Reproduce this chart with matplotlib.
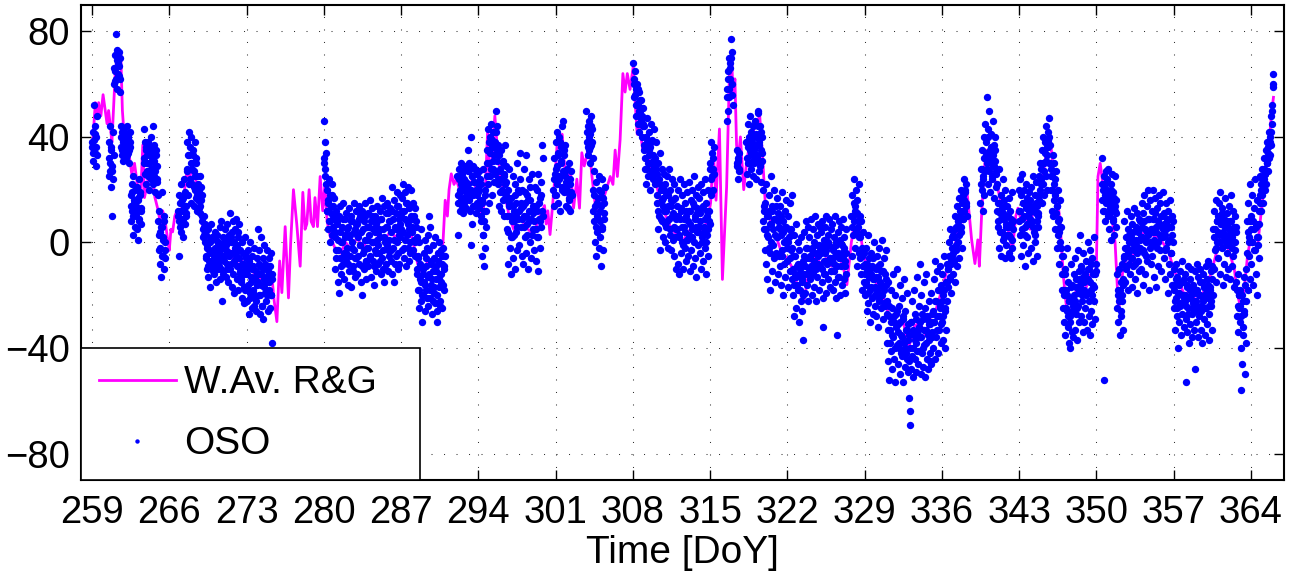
import matplotlib
matplotlib.use("Agg")
import matplotlib.pyplot as plt
import numpy as np

n = np.nan

# OSO series, one sample every 0.05 day; one row per day, one list per week
OSO_START = 259.0
OSO_STEP = 0.05

oso_w1 = [
    36, 42, 31, 39, 52, 34, 44, 29, 40, 48, n, n, n, n, n, n, n, n, n, n,
    n, n, n, n, n, n, n, n, n, n, 38, 25, 44, 30, 21, 35, 10, 27, 42, 33,
    60, 71, 65, 79, 62, 73, 58, 68, 72, 63, 70, 57, 44, 36, 42, 33, 39, 31, 43, 37,
    35, 41, 32, 38, 44, 34, 40, 30, 36, 42, 18, 8, 22, 12, 3, 25, 15, 6, 20, 10,
    14, 21, 5, 17, 1, 24, 9, 19, 12, 7, n, n, n, n, 43, 30, 38, 22, 35, 27,
    33, 25, 38, 20, 30, 36, 24, 40, 28, 34, 44, 22, 31, 37, 19, 27, 35, 23, 29, 18,
    8, -3, 12, -8, 4, -13, 6, 19, -5, 2, 10, -10, 0, -6, n, n, n, n, n, n,
]
oso_w2 = [
    n, n, n, n, n, n, n, n, n, n, n, n, n, n, n, n, 10, -5, 18, 6,
    15, 4, 22, 9, 17, 2, 24, 12, 7, 19, 14, 11, 28, 38, 18, 33, 42, 24, 36, 15,
    40, 30, 22, 35, 14, 27, 38, 20, 32, 17, 25, 12, 22, 13, 19, 25, 11, 16, 21, 10,
    8, 2, 6, 10, 0, 4, -5, 3, -10, -2, 5, -13, -7, 0, -17, -4, 7, -9, 2, -11,
    -3, -12, 4, -8, 1, -15, -6, 3, -10, -1, -9, 6, -14, -2, 8, -22, -5, 2, -12, 0,
    -7, 5, -13, -3, 7, -10, 1, -15, -5, 3, 11, -8, 2, -17, -4, 8, -12, 0, -19, 5,
    -6, 9, -14, -1, 4, -18, -9, 7, -11, -3, -15, 0, -21, -8, -4, -23, -12, 2, -18, -6,
]
oso_w3 = [
    -10, -22, -3, -16, -27, -7, -19, 0, -13, -25, -5, -18, -9, -24, -2, -14, -21, -11, -26, -6,
    -12, 5, -20, -3, -27, -9, -16, 2, -24, -6, -29, -14, -1, -19, -8, -22, -15, -3, -26, -11,
    -18, -6, -25, -12, -4, -20, -38, -14, n, n, n, n, n, n, n, n, n, n, n, n,
] + [n] * 80
oso_w4 = [
    46, 30, 38, 25, 34, 12, 20, 5, 15, 24, 8, 0, 18, 11, 3, 22, 14, 6, 17, 9,
    4, -10, 12, -3, 8, -15, 1, -19, 10, -6, 14, -12, 0, 6, -8, 15, -4, -14, 9, 2,
    -7, 11, -2, -16, 6, 13, -11, 3, -5, 10, -17, 0, 8, -9, 15, -3, -13, 5, 12, -6,
    7, -12, 2, 14, -8, -1, 10, -15, 4, -20, 12, -4, 8, -10, 1, 15, -7, -14, 6, -2,
    11, -9, 3, 16, -5, 8, -13, 0, 13, -7, 5, -16, 10, -3, 7, -11, 14, 1, -8, 4,
    -4, 12, 2, -12, 9, 17, -6, 5, -10, 14, -15, 0, 11, -8, 6, 15, -3, -11, 8, 1,
    13, -7, 4, 21, -12, 9, -2, 16, -15, 6, 11, -5, 19, 0, -10, 14, 3, -8, 18, 7,
]
oso_w5 = [
    10, -3, 17, 4, 22, -6, 12, 1, 19, -9, 8, 15, -2, 21, 5, -7, 14, 0, 20, 9,
    6, 15, -3, 10, 1, 13, -5, 8, -10, 2, -18, -5, -25, 0, -14, -8, -22, 5, -30, -12,
    -20, -4, -15, -26, 1, -9, -18, -2, -24, 3, 10, -12, -21, 6, -7, -16, -27, -1, -11, -19,
    -6, -23, 2, -14, -9, -26, -30, -4, -17, 0, -12, -22, -3, -15, -25, -8, -2, -18, -10, -5,
    n, n, n, n, n, n, n, n, n, n, n, n, n, n, n, n, n, n, n, n,
    n, n, 25, 15, 3, 28, 19, 12, 30, 22, 14, 26, 17, 11, 24, 20, 29, 13, 23, 18,
    21, 27, 35, 16, 30, 12, 40, -1, 7, 25, 18, 29, 14, 23, 28, 11, 20, 26, 15, 22,
]
oso_w6 = [
    19, 27, 13, 24, 10, 22, -5, 15, 3, 28, -9, 8, 18, -2, 12, 25, 35, 22, 43, 15,
    30, 40, 25, 45, 18, 36, 28, 42, 33, 23, 38, 27, 50, 44, 31, 37, 24, 14, 33, 19,
    28, 12, 35, 20, 16, 31, 25, 10, 37, 22, 18, 29, 5, 20, -8, 14, 28, -2, 10, -12,
    17, 2, 25, -6, 12, 8, -10, 22, 4, 15, -3, 30, 9, 19, -1, 34, 24, 6, 13, -5,
    20, -8, 10, 28, 2, 15, -4, 33, 7, 18, -10, 12, 24, 0, 16, -6, 9, 26, 3, 14,
    11, -3, 21, 5, 14, -7, 20, 2, 26, -11, 9, 17, -2, 23, 6, 12, 37, 32, n, n,
    n, n, n, n, n, n, n, n, n, n, n, n, n, n, n, n, 20, 32, 14, 26,
]
oso_w7 = [
    38, 18, 29, 42, 15, 34, 24, 40, 12, 31, 36, 21, 44, 27, 46, 33, 19, 37, 25, 14,
    22, 28, 13, 19, 30, 16, 24, 12, 27, 18, n, n, n, n, n, n, n, n, n, n,
    n, n, n, n, n, n, n, n, n, n, n, n, n, n, n, n, 50, 38, 44, 33,
    46, 35, 41, 30, 48, 37, 43, 32, 20, 8, 27, 0, 14, -5, 23, 10, 4, 17, -2, 25,
    12, 2, -9, 19, 6, 24, -3, 15, 9, 21, n, n, n, n, n, n, n, n, n, n,
] + [n] * 40
oso_w8 = [
    n, 68, 62, 55, 65, 48, 58, 52, 60, 45, 53, 57, 42, 50, 46, 54, 40, 48, 44, 51,
    35, 44, 28, 40, 22, 38, 47, 30, 25, 42, 33, 20, 36, 45, 27, 39, 24, 31, 43, 29,
    32, 22, 38, 26, 15, 30, 5, 24, 10, 34, -3, 20, 28, 8, 17, 2, 26, 12, 22, 0,
    18, 6, 25, -2, 14, 28, 9, 3, 20, -3, 16, 24, 1, 11, 22, -5, 10, 17, -10, 5,
    14, -8, 20, 3, -12, 9, 24, -4, 12, 0, 18, -10, 6, 22, -2, 15, -7, 10, 1, 19,
    -5, 12, 23, -11, 7, 16, -3, 20, 2, -9, 14, 25, -6, 9, 18, -13, 4, 11, -1, 21,
    17, -4, 8, 22, -10, 13, 0, 19, -7, 6, 24, -2, 15, -12, 10, 3, 20, -5, 12, 7,
]
oso_w9 = [
    30, 18, 38, 25, 34, 20, 28, 36, n, n, n, n, n, n, n, n, n, n, n, n,
    n, n, n, n, n, n, n, n, n, n, 46, 58, 50, 65, 55, 70, 62, 68, 77, 72,
    60, 52, n, n, n, n, n, n, 30, 35, 24, 32, 27, 34, n, n, n, n, n, n,
    n, n, n, n, n, n, 38, 26, 45, 30, 40, 22, 35, 48, 28, 42, 33, 25, 44, 37,
    30, 46, 36, 24, 41, 33, 49, 50, 27, 38, 44, 29, 35, 23, 40, 31, 20, 5, 12, -3,
    15, -8, 22, 3, -14, 10, 18, -2, 7, -18, 25, 0, 12, -11, 5, 20, -6, 9, -15, 14,
    -4, 17, 2, -12, 11, 6, -9, 14, -16, 3, 19, -5, 8, -20, 0, 12, -13, 6, 16, -2,
]
oso_w10 = [
    -7, 10, -17, 2, 15, -11, 5, -3, 18, -14, -5, -20, 3, -28, -12, 7, -25, -9, -16, 0,
    -18, -3, -30, -10, -22, 2, -26, -14, -7, -37, -12, 4, -19, -6, 8, -16, -2, -22, 6, -10,
    2, -14, -6, 9, -20, -3, 5, -11, -17, 0, 10, -8, -22, 3, -13, 7, -5, -18, -1, 6,
    -9, 4, -15, 8, -21, -32, 1, -12, 6, -4, -19, 10, -7, 3, -14, -1, 9, -17, -6, 5,
    -11, 7, -3, -18, 2, -8, 10, -15, -1, -21, -35, 4, -13, 8, -6, -20, 1, -9, 6, -16,
    -4, 9, -14, 2, -19, -7, 5, -12, n, n, n, n, n, n, n, n, 10, -5, 18, 3,
    15, 24, -2, 12, 20, 5, -9, 16, 8, 22, -4, 10, 2, -12, 8, -5, -18, 4, -9, -15,
]
oso_w11 = [
    -8, -20, -2, -15, -26, -11, 3, -23, -6, -18, -30, -12, -4, -21, -9, -27, -14, 0, -24, -17,
    -10, -28, -5, -19, -13, -32, -2, -22, -8, -25, -16, 1, -20, -11, -29, -6, -18, -24, -3, -14,
    -22, -38, -15, -45, -28, -52, -33, -18, -41, -25, -48, -12, -36, -30, -44, -20, -53, -27, -39, -10,
    -31, -46, -24, -40, -16, -50, -35, -21, -43, -29, -53, -38, -14, -47, -26, -42, -33, -19, -49, -37,
    -45, -59, -69, -64, -30, -48, -22, -40, -51, -35, -18, -44, -27, -49, -38, -13, -33, -46, -24, -41,
    -8, -36, -50, -20, -42, -29, -47, -15, -39, -25, -51, -33, -12, -44, -28, -48, -22, -37, -45, -31,
    -19, -46, -34, -27, -40, -14, -30, -7, -44, -22, -36, -11, -28, -42, -18, -33, -9, -25, -38, -16,
]
oso_w12 = [
    -30, -12, -37, -20, -5, -26, -40, -15, -33, -8, -22, -10, -17, 0, -14, 5, -8, -19, 2, -5,
    -12, 3, -7, 10, -15, 6, -3, 14, -9, 8, 0, 17, -6, 12, 4, 20, -2, 15, 9, 18,
    24, 12, 19, 15, 22, 10, n, n, n, n, n, n, n, n, n, n, n, n, n, n,
    n, n, n, n, n, n, n, n, n, n, 15, 28, 20, 35, 12, 25, 40, 18, 32, 45,
    38, 30, 55, 22, 43, 27, 50, 35, 19, 41, 33, 24, 46, 29, 37, 17, 31, 40, 21, 26,
    22, 8, 15, -2, 28, 11, 4, 18, -5, 13, 24, 1, 9, 16, -6, 20, 6, -1, 14, 3,
    10, -4, 17, 2, 12, -6, 7, 19, -2, 5, n, n, n, n, n, n, n, n, n, 20,
]
oso_w13 = [
    12, 24, 3, 18, -5, 9, 26, 15, -1, 20, 6, -9, 14, 22, 2, 17, -4, 10, 19, 7,
    16, -2, 21, 8, 12, -7, 25, 4, 18, 0, 11, 23, -5, 14, 6, 10, 25, 18, 30, 22,
    28, 15, 35, 22, 40, 18, 30, 38, 25, 44, 33, 20, 42, 36, 47, 30, 37, 20, 28, 12,
    25, 33, 10, 22, 30, 5, 18, 27, -2, 14, 20, 3, 9, -8, 16, 0, 6, -5, -12, -25,
    -5, -20, -30, -10, -35, -18, -26, -2, -32, -15, -38, -22, -40, -28, -8, -34, -16, -24, -36, -12,
    -20, -33, -6, -27, -14, -37, -3, -24, -30, -11, -18, 3, -28, -9, -22, -34, -4, -15, -30, -12,
    -25, -7, -20, -33, 0, -14, -28, -10, -35, -3, -18, -26, -6, -31, -16, 2, -22, -12, -29, -8,
]
oso_w14 = [
    n, n, n, n, n, n, n, n, n, n, 32, 22, 12, 25, -52, 18, 8, 27, 15, 20,
    24, 10, 28, 5, 18, 13, 22, 1, 26, 16, 8, 19, 3, 14, 25, 11, 6, -12, -25, -18,
    -30, -10, -35, -20, -15, -28, -8, -22, -14, -33, -5, 8, -15, 2, -10, 12, -2, -18, 5, -8,
    3, -12, 10, -6, -17, 7, 0, -9, 13, -3, -14, 6, -1, 11, -19, 4, -7, 9, -11, 1,
    8, -10, 15, 2, -16, 11, -4, 18, 5, -12, 0, 14, -7, 20, 3, -18, 9, -2, 16, -8,
    12, -5, 20, 4, -13, 9, 17, -1, 6, -17, 13, 0, -9, 18, 7, -3, 15, -11, 2, 10,
    5, 19, -6, 11, -14, 3, 15, -2, 8, -19, 12, -8, 1, 16, -12, 6, -4, 10, -16, 0,
]
oso_w15 = [
    -10, -25, -16, -33, -8, -21, -28, -13, -40, -19, -30, -11, -24, -35, -15, -27, -7, -20, -32, -14,
    -22, -12, -53, -29, -17, -34, -9, -25, -38, -14, -31, -20, -10, -27, -36, -16, -23, -33, -11, -48,
    -18, -30, -8, -24, -36, -13, -28, -20, -10, -33, -26, -15, -38, -22, -12, -29, -17, -35, -9, -25,
    -14, -31, -21, -7, -27, -37, -17, -11, -24, -33, -9, -20, 5, -10, 12, -3, 16, -15, 8, 0,
    10, -6, 15, 3, -12, 19, 7, -2, 13, -16, 4, 9, -8, 17, 1, -13, 11, -4, 6, -10,
    14, -1, 8, -14, 18, 2, -9, 12, -5, 6, -17, 10, -3, 4, -15, -28, -12, -34, -20, -25,
    -30, -18, -40, -56, -46, -22, -35, -13, -27, -50, -16, -38, -10, 8, -18, 15, 2, -5, 22, -14,
]
oso_w16 = [
    10, -8, 18, 0, -16, 13, 5, -3, 24, -12, 7, 16, -20, 2, 12, -6, 15, 25, 12, 20,
    18, 28, 15, 24, 32, 20, 26, 35, 22, 30, 38, 27, 36, 42, 33, 40, 48, 37, 45, 52,
    64, 59,
]

# interleaved OSO samples, one every 0.1 day starting at 259.025
OSB_START = 259.025
OSB_STEP = 0.1

osb_w1 = [
    38, 34, 41, 36, 33, n, n, n, n, n,
    n, n, n, n, n, 32, 27, 36, 29, 24,
    66, 61, 69, 64, 67, 62, 40, 35, 38, 41,
    37, 33, 40, 35, 38, 14, 19, 10, 16, 12,
    11, 16, 8, 18, 13, n, n, 32, 26, 36,
    30, 26, 34, 28, 32, 36, 25, 29, 33, 24,
    3, -2, 6, -5, 1, 8, -3, n, n, n,
]
osb_w2 = [
    n, n, n, n, n, n, n, n, 12, 8,
    12, 16, 9, 14, 18, 10, 27, 33, 22, 30,
    28, 33, 21, 25, 30, 18, 16, 20, 14, 18,
    5, 3, 7, -6, -1, -9, -3, 1, -7, -4,
    -6, -2, -9, -4, 0, -7, -3, -10, -1, -5,
    -5, -1, -8, 2, -4, -10, 0, 4, -7, -2,
    -4, -9, 2, -6, -12, -14, -8, -17, -10, -5,
]
osb_w3 = [
    -12, -18, -8, -21, -15, -10, -19, -13, -22, -16,
    -15, -8, -20, -12, -24, -10, -17, -13, -20, -9,
    -15, -9, -20, -12, n, n, n, n, n, n,
] + [n] * 40
osb_w4 = [
    32, 28, 22, 12, 16, 8, 14, 18, 10, 4,
    2, -6, 7, -3, 4, -9, 0, 9, -5, 3,
    -4, 5, -8, 2, 8, -2, -11, 4, -6, 7,
    3, -5, 9, -1, -9, 5, -3, 10, -7, 1,
    -2, 6, -6, 10, 0, -9, 4, -4, 8, -1,
    5, -7, 9, -3, 2, -10, 6, -1, 11, -5,
    8, -3, 12, 1, -8, 5, 14, -4, 9, 2,
]
osb_w5 = [
    5, 12, -2, 9, 15, 3, 7, 13, -4, 10,
    4, 9, 0, 6, -12, -6, -18, -9, -15, -20,
    -10, -16, -6, -21, -13, -3, -18, -8, -14, -22,
    -17, -11, -20, -7, -14, -24, -12, -5, -16, -9,
    n, n, n, n, n, n, n, n, n, n,
    n, 18, 24, 20, 16, 27, 21, 15, 23, 19,
    22, 17, 28, 20, 25, 14, 23, 19, 26, 18,
]
osb_w6 = [
    20, 16, 8, 16, 3, 12, 20, 6, 30, 38,
    34, 28, 39, 31, 36, 26, 42, 35, 22, 27,
    24, 19, 30, 26, 17, 23, 10, 4, 15, 2,
    8, 14, 3, 18, 10, 6, 20, 12, 15, 9,
    14, 6, 19, 10, 3, 16, 8, 21, 12, 5,
    8, 14, 5, 12, 2, 15, 8, 18, 10, n,
    n, n, n, n, n, n, n, n, 24, 18,
]
osb_w7 = [
    28, 22, 33, 25, 38, 30, 20, 35, 27, 23,
    20, 24, 17, 22, 19, n, n, n, n, n,
    n, n, n, n, n, n, n, n, 42, 36,
    40, 36, 44, 38, 12, 18, 6, 15, 9, 20,
    8, 14, 5, 17, 11, n, n, n, n, n,
] + [n] * 20
osb_w8 = [
    n, 60, 56, 52, 58, 50, 54, 47, 51, 45,
    37, 32, 40, 28, 35, 30, 38, 26, 33, 29,
    30, 28, 18, 12, 22, 9, 16, 14, 20, 7,
    12, 8, 18, 5, 14, 10, 16, 6, 2, 9,
    5, 10, 2, 13, 6, -1, 9, 4, 12, 1,
    8, 3, 12, 5, 15, 0, 10, 6, 13, 4,
    6, 11, 2, 14, 4, 9, 0, 12, 5, 8,
]
osb_w9 = [
    28, 24, 32, 26, n, n, n, n, n, n,
    n, n, n, n, n, 55, 62, 58, 66, 70,
    56, n, n, n, 29, 31, 28, n, n, n,
    n, n, n, 32, 36, 30, 40, 34, 38, 31,
    35, 40, 32, 44, 37, 30, 42, 34, 8, 14,
    5, 10, 2, 12, -4, 7, 14, -1, 9, 3,
    2, 8, -5, 5, 10, -3, 4, -8, 6, 1,
]
osb_w10 = [
    0, 5, -6, 3, -2, -10, -16, -5, -13, -8,
    -12, -18, -8, -15, -20, -5, -9, -2, -12, -6,
    -5, -9, -2, -12, -7, -4, -10, -1, -8, -3,
    -4, -10, -1, -7, -12, -3, -8, 0, -6, -11,
    -7, -2, -11, -5, 0, -9, -4, -13, -6, -1,
    -6, -2, -9, -4, n, n, n, n, 6, 10,
    8, 14, 4, 11, 6, 2, -6, -2, -9, -4,
]
osb_w11 = [
    -12, -16, -8, -19, -13, -10, -17, -6, -14, -20,
    -13, -18, -9, -21, -15, -11, -17, -23, -12, -16,
    -27, -33, -24, -38, -30, -35, -28, -40, -32, -26,
    -34, -38, -30, -42, -36, -28, -40, -33, -44, -31,
    -35, -40, -30, -43, -33, -37, -29, -41, -35, -32,
    -30, -36, -27, -40, -33, -38, -29, -35, -31, -42,
    -30, -36, -26, -30, -22, -33, -18, -28, -24, -31,
]
osb_w12 = [
    -22, -28, -18, -25, -15, -10, -5, -13, -7, -2,
    -4, 2, 5, -1, 8, 3, 10, 6, 12, 9,
    16, 20, 14, n, n, n, n, n, n, n,
    n, n, n, n, n, 22, 28, 24, 32, 27,
    34, 28, 40, 31, 36, 25, 33, 29, 35, 27,
    12, 6, 15, 9, 4, 11, 2, 14, 7, 10,
    6, 3, 9, 1, 8, n, n, n, n, n,
]
osb_w13 = [
    8, 12, 5, 15, 10, 3, 13, 7, 16, 11,
    9, 14, 6, 12, 3, 15, 8, 11, 16, 20,
    24, 30, 27, 34, 31, 36, 39, 40, 30, 25,
    20, 16, 24, 11, 14, 8, 4, 6, -2, -18,
    -18, -12, -25, -20, -28, -22, -30, -17, -26, -21,
    -22, -17, -25, -19, -14, -16, -10, -20, -13, -18,
    -14, -19, -10, -22, -15, -8, -20, -12, -17, -11,
]
osb_w14 = [
    n, n, n, n, n, 16, 20, 12, 22, 17,
    15, 18, 11, 20, 14, 9, 17, 12, 16, -20,
    -22, -18, -26, -20, -16, -6, -2, -9, -4, 0,
    -3, 2, -6, 4, -1, -8, 1, -4, 5, -2,
    2, 6, -3, 8, 1, -5, 4, 9, 0, 5,
    5, 9, 1, 11, 4, -2, 8, 3, 10, 6,
    2, 7, -3, 5, 9, 0, 6, -4, 3, 8,
]
osb_w15 = [
    -18, -22, -14, -25, -19, -16, -23, -20, -15, -21,
    -20, -24, -16, -27, -21, -18, -25, -22, -19, -26,
    -22, -18, -26, -20, -15, -24, -21, -17, -25, -19,
    -20, -16, -24, -18, -22, -14, 2, 5, -2, 8,
    4, 9, 0, 7, 11, 2, 6, -1, 8, 3,
    5, 1, 8, -2, 4, 0, 6, -18, -24, -20,
    -24, -28, -20, -32, -26, -22, -4, 4, 0, 8,
]
osb_w16 = [
    5, 0, 8, -3, 6, 2, -1, 7, 18, 22,
    24, 22, 28, 26, 30, 34, 32, 38, 42, 50,
    60,
]

# weighted average of R&G, vertices at day of year
rg_doy = [
    259.0, 259.3, 259.45, 259.6, 259.8, 260.0, 260.2, 260.36, 260.5, 260.66, 260.8,
    261.1, 261.3, 261.45, 261.6, 261.75, 261.9, 262.1, 262.3, 262.6, 262.85, 263.1,
    263.4, 263.6, 263.75, 264.0, 264.3, 264.5, 264.7, 265.0, 265.2, 265.4, 265.6,
    265.85, 266.0, 266.15, 266.3, 266.5, 266.7, 267.0, 267.3, 267.6, 267.85, 268.05,
    268.3, 268.5, 268.8, 269.1, 269.4, 269.7, 270.0, 270.5, 271.0, 271.5, 272.0,
    272.5, 273.0, 273.5, 274.0, 274.5, 275.0, 275.3, 275.5, 275.75, 276.0, 276.2,
    276.5, 276.8, 277.0, 277.25, 277.55, 277.86, 278.1, 278.3, 278.46, 278.67, 278.85,
    279.06, 279.2, 279.43, 279.67, 279.9, 280.1, 280.3, 280.6, 281.0, 281.5, 282.0,
    282.5, 283.0, 283.5, 284.0, 284.5, 285.0, 285.5, 286.0, 286.5, 287.0, 287.5,
    288.0, 288.5, 289.0, 289.5, 290.0, 290.5, 290.8, 291.0, 291.2, 291.35, 291.55,
    291.8, 292.0, 292.3, 292.6, 293.0, 293.5, 294.0, 294.3, 294.6, 294.85, 295.0,
    295.2, 295.5, 295.7, 296.0, 296.4, 296.8, 297.2, 297.6, 298.0, 298.5, 299.0,
    299.4, 299.8, 300.0, 300.15, 300.3, 300.5, 300.75, 301.0, 301.2, 301.4, 301.6,
    301.8, 302.0, 302.2, 302.33, 302.63, 302.93, 303.17, 303.38, 303.6, 303.84, 304.0,
    304.3, 304.6, 305.0, 305.3, 305.6, 305.95, 306.2, 306.4, 306.6, 306.85, 307.1,
    307.3, 307.5, 307.75, 308.05, 308.2, 308.4, 308.6, 308.9, 309.2, 309.6, 310.0,
    310.5, 311.0, 311.5, 312.0, 312.5, 313.0, 313.5, 314.0, 314.5, 314.8, 315.05,
    315.3, 315.54, 315.85, 316.12, 316.5, 316.75, 316.95, 317.1, 317.25, 317.4, 317.55,
    317.75, 317.9, 318.05, 318.3, 318.6, 318.9, 319.2, 319.5, 319.75, 320.0, 320.5,
    321.0, 321.5, 322.0, 322.5, 323.0, 323.5, 324.0, 324.5, 325.0, 325.5, 326.0,
    326.5, 327.0, 327.4, 327.6, 327.8, 328.0, 328.2, 328.5, 328.8, 329.0, 329.5,
    330.0, 330.5, 331.0, 331.5, 332.0, 332.5, 333.0, 333.5, 334.0, 334.5, 335.0,
    335.5, 336.0, 336.5, 337.0, 337.5, 338.0, 338.26, 338.5, 338.7, 339.0, 339.26,
    339.4, 339.6, 339.8, 340.0, 340.3, 340.6, 341.0, 341.5, 342.0, 342.4, 342.7,
    342.9, 343.2, 343.6, 344.0, 344.3, 344.6, 345.0, 345.5, 345.8, 346.1, 346.4,
    346.7, 347.0, 347.3, 347.6, 348.0, 348.5, 349.0, 349.5, 350.0, 350.15, 350.35,
    350.6, 351.0, 351.4, 351.7, 352.0, 352.2, 352.4, 352.8, 353.2, 353.6, 354.0,
    354.5, 355.0, 355.5, 356.0, 356.5, 357.0, 357.5, 358.0, 358.5, 359.0, 359.5,
    360.0, 360.5, 361.0, 361.5, 362.0, 362.5, 362.8, 363.1, 363.4, 363.7, 364.0,
    364.3, 364.6, 364.9, 365.3, 365.6, 365.9, 366.05,
]
rg_val = [
    34, 53, 47, 53, 48, 56, 50, 45, 50, 44, 38,
    64, 72, 68, 72, 50, 41, 38, 35, 26, 30, 22,
    17, 37, 17, 22, 29, 24, 17, 12, 7, 12, 9,
    1, -3, 5, 4, 10, 12, 10, 17, 27, 24, 29,
    25, 22, 12, 5, 0, -3, -5, -2, -6, -3, -8,
    -6, -12, -10, -15, -12, -16, -13, -22, -30, -7, -19,
    6, -21, 0, 20, 7, -9, 19, 5, 7, 20, 8,
    6, 17, 6, 25, 12, 22, 8, 2, -2, -4, 0,
    -3, 2, -2, 1, -1, 3, 1, 4, 2, 5, 3,
    2, -8, -12, -6, -10, -8, 0, 16, 10, 20, 26,
    22, 24, 20, 22, 20, 24, 18, 10, 16, 43, 25,
    30, 48, 37, 25, 18, 10, 5, 10, 8, 5, 3,
    8, 12, 14, 7, 12, 3, 15, 28, 41, 36, 41,
    30, 18, 25, 28, 13, 24, 13, 34, 29, 33, 38,
    25, 14, 10, 16, 20, 25, 22, 35, 25, 39, 64,
    57, 64, 58, 67, 54, 41, 45, 35, 38, 28, 25,
    15, 10, 5, 3, 0, 4, 6, 3, 6, 9, 15,
    34, 16, 43, -14, 21, 63, 70, 55, 62, 37, 31,
    40, 30, 20, 30, 38, 42, 45, 48, 33, 15, 8,
    2, -4, -6, -10, -18, -22, -10, -5, -8, -6, -9,
    -5, -8, -16, -8, 0, 5, 12, 8, -2, -6, -12,
    -15, -18, -25, -30, -32, -30, -40, -32, -30, -35, -28,
    -25, -18, -10, -5, 5, 10, 20, 10, 1, -8, 1,
    -9, 10, 25, 35, 30, 25, 22, 12, 5, -3, 10,
    13, 8, 10, 5, 13, 13, 20, 35, 40, 28, 20,
    8, -12, -25, -30, -20, -15, -18, -12, -10, 25, 30,
    22, 15, 10, 0, -25, -22, -10, -5, -8, 0, 2,
    5, 3, 2, 0, -3, -10, -15, -20, -18, -22, -20,
    -17, -10, -2, 2, -3, -10, -20, -25, -18, -5, 2,
    0, -2, 10, 25, 35, 50, 55,
]

x_ticks = [259, 266, 273, 280, 287, 294, 301, 308, 315, 322, 329, 336, 343, 350, 357, 364]
y_ticks = [-80, -40, 0, 40, 80]


def main() -> None:
    plt.rcParams["font.family"] = ["Liberation Sans", "DejaVu Sans"]

    oso_a = np.array(
        oso_w1 + oso_w2 + oso_w3 + oso_w4 + oso_w5 + oso_w6 + oso_w7 + oso_w8
        + oso_w9 + oso_w10 + oso_w11 + oso_w12 + oso_w13 + oso_w14 + oso_w15 + oso_w16,
        dtype=float,
    )
    oso_b = np.array(
        osb_w1 + osb_w2 + osb_w3 + osb_w4 + osb_w5 + osb_w6 + osb_w7 + osb_w8
        + osb_w9 + osb_w10 + osb_w11 + osb_w12 + osb_w13 + osb_w14 + osb_w15 + osb_w16,
        dtype=float,
    )
    doy_a = OSO_START + OSO_STEP * np.arange(len(oso_a))
    doy_b = OSB_START + OSB_STEP * np.arange(len(oso_b))
    order = np.argsort(np.concatenate([doy_a, doy_b]), kind="stable")
    oso_doy = np.concatenate([doy_a, doy_b])[order]
    oso_val = np.concatenate([oso_a, oso_b])[order]

    fig = plt.figure(figsize=(12.96, 5.76), dpi=100)
    ax = fig.add_axes([0.0625, 0.1667, 0.9282, 0.8247])

    ax.plot(rg_doy, rg_val, color="#ff00ff", lw=2.0, label="W.Av. R&G", zorder=2)
    ax.plot(oso_doy, oso_val, "o", color="#0000ff", ms=5.3, mew=0,
            label="OSO", zorder=3)

    ax.set_xlim(258, 367)
    ax.set_ylim(-90, 90)
    ax.set_xticks(x_ticks)
    ax.set_yticks(y_ticks)
    ax.tick_params(direction="in", length=7, width=1.0, labelsize=27.5,
                   top=True, right=True)
    ax.tick_params(axis="x", pad=11)
    ax.tick_params(axis="y", pad=8)
    ax.grid(True, color="0.2", linestyle=(0, (1, 11)), linewidth=0.75)
    for sp in ax.spines.values():
        sp.set_linewidth(1.5)
    ax.set_xlabel("Time [DoY]", fontsize=28, labelpad=3)

    leg = ax.legend(loc="lower left", bbox_to_anchor=(0, 0, 0.282, 1),
                    mode="expand", borderaxespad=0, fontsize=28,
                    fancybox=False, framealpha=1, edgecolor="black",
                    handlelength=2.0, handletextpad=0.2, labelspacing=0.65,
                    borderpad=0.45, markerscale=0.6)
    leg.get_frame().set_linewidth(1.2)

    fig.savefig("out.png", dpi=100)
    plt.close(fig)


if __name__ == "__main__":
    main()
